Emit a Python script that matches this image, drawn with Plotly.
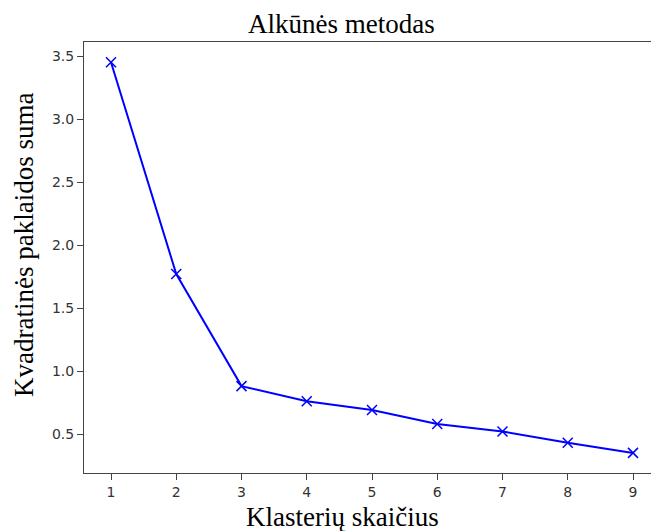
import plotly.graph_objects as go

clusters = [1, 2, 3, 4, 5, 6, 7, 8, 9]
sse = [3.45, 1.77, 0.88, 0.76, 0.69, 0.58, 0.52, 0.43, 0.35]
y_ticks = [0.5, 1.0, 1.5, 2.0, 2.5, 3.0, 3.5]

W, H = 651, 531
L, T, R, B = 84, 42, 651, 473  # plot area in page pixels
PW, PH = R - L, B - T

fig = go.Figure(go.Scatter(
    x=clusters, y=sse, mode="lines+markers",
    line=dict(color="#0000ff", width=2),
    marker=dict(symbol="x-thin", size=10, color="#0000ff",
                line=dict(color="#0000ff", width=1.5)),
    cliponaxis=False,
))

serif = "Liberation Serif, Times New Roman, serif"
fig.update_layout(
    width=W, height=H,
    margin=dict(l=L, r=W - R, t=T, b=H - B, autoexpand=False),
    paper_bgcolor="white", plot_bgcolor="white",
    showlegend=False,
    font=dict(family="DejaVu Sans, sans-serif", size=12, color="#333"),
    annotations=[
        dict(text="Alkūnės metodas", x=(341 - L) / PW, y=(B - 24) / PH, xref="paper", yref="paper",
             yanchor="middle", xanchor="center", showarrow=False,
             font=dict(family=serif, size=27, color="black")),
        dict(text="Klasterių skaičius", x=(342 - L) / PW, y=(B - 517) / PH, xref="paper", yref="paper",
             yanchor="middle", xanchor="center", showarrow=False,
             font=dict(family=serif, size=27, color="black")),
        dict(text="Kvadratinės paklaidos suma", x=(24 - L) / PW, y=(B - 245) / PH,
             xref="paper", yref="paper", textangle=-90, xanchor="center", yanchor="middle",
             showarrow=False, font=dict(family=serif, size=27, color="black")),
    ],
)
fig.update_xaxes(
    range=[1 - 27 / 65.25, 9 + 18 / 65.25], tickvals=clusters, automargin=False,
    showline=True, linecolor="#444", linewidth=1, mirror=True,
    ticks="outside", ticklen=6, tickcolor="#444", showgrid=False, zeroline=False,
    tickfont=dict(size=14, color="#333"),
)
fig.update_yaxes(
    range=[0.5 - 39 / 126, 3.5 + 14 / 126], tickvals=y_ticks, automargin=False,
    ticktext=[f"{v:.1f}" for v in y_ticks],
    showline=True, linecolor="#444", linewidth=1,
    ticks="outside", ticklen=6, tickcolor="#444", showgrid=False, zeroline=False,
    tickfont=dict(size=14, color="#333"),
)
fig.write_html(
    "out.html",
    config={"displayModeBar": False, "staticPlot": True},
    post_script="document.body.style.margin='0';document.body.style.overflow='hidden';",
)
